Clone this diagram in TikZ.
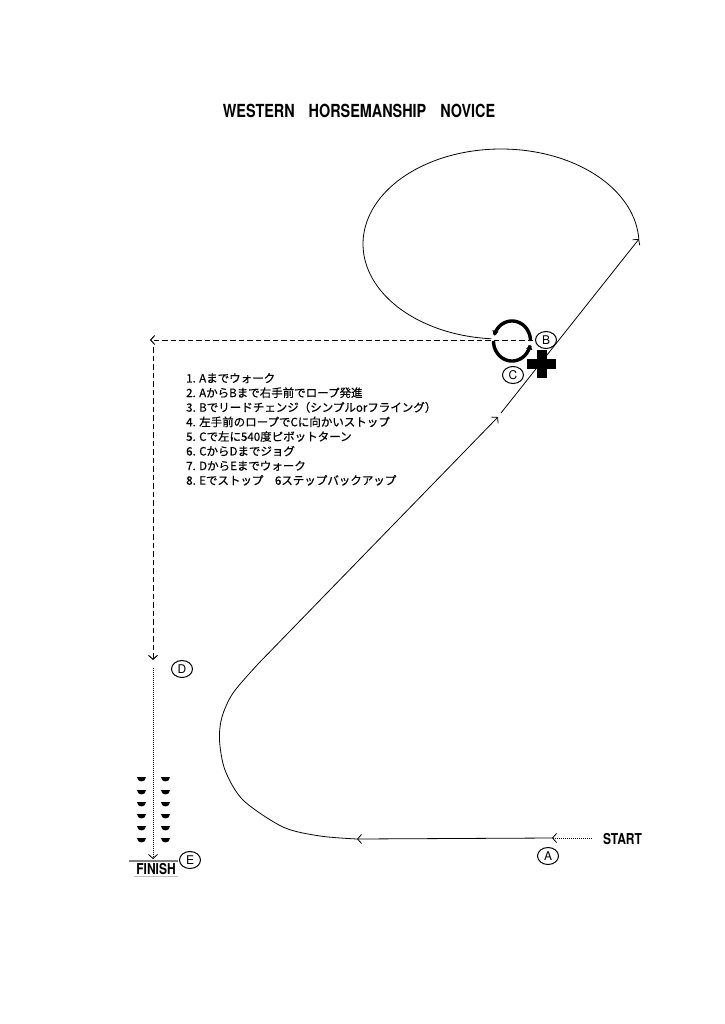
\documentclass[tikz,border=0pt]{standalone}
\usepackage{fontspec}
\setmainfont{TeX Gyre Heros}
\newfontfamily\condfont[FakeStretch=0.8]{TeX Gyre Heros}
\newfontfamily\jpfont[FakeBold=0.5]{Noto Sans CJK JP}
\usetikzlibrary{arrows.meta,shapes.geometric}

\begin{document}
\begin{tikzpicture}[x=1pt, y=-1pt, >={Straight Barb[length=4pt,width=9pt]},
    route/.style={line width=0.8pt},
    hdash/.style={line width=1pt, dash pattern=on 5.5pt off 3pt},
    finedots/.style={line width=0.8pt, dash pattern=on 0.8pt off 1.2pt},
    letter/.style={draw, ellipse, line width=1pt, minimum width=21pt, minimum height=17pt, inner sep=0pt, font=\fontsize{12}{12}\selectfont},
    bigword/.style={font=\condfont\bfseries\fontsize{#1}{#1}\selectfont}]
    \useasboundingbox (0,0) rectangle (724,1024);

    \node[bigword=18] (title) at (359,111) {WESTERN\hspace{14pt}HORSEMANSHIP\hspace{14pt}NOVICE};

    \coordinate (start) at (592,838);
    \coordinate (a) at (552,838);
    \coordinate (lope) at (357,839);
    \coordinate (bend) at (498,417);
    \coordinate (bendup) at (501,413);
    \coordinate (east) at (639,239);
    \coordinate (pivot) at (512,341);
    \coordinate (dashend) at (533,340);
    \coordinate (west) at (150,340);
    \coordinate (downtop) at (153,347);
    \coordinate (d) at (153,660);
    \coordinate (walktop) at (153,668);
    \coordinate (e) at (153,859);

    \draw[finedots, ->] (start) -- (a);
    \draw[route, ->] (a) -- (lope);
    \draw[route, ->] plot[smooth] coordinates {(lope) (320,836) (283,827) (243,800) (225,770) (219.5,740) (222,717) (233,693) (258,664)} -- (bend);
    \draw[route, ->] (bendup) -- (east);
    \draw[route] plot[domain=3:266, samples=90, smooth] ({501+138*cos(\x)}, {244-95*sin(\x)});

    \draw[line width=3.4pt, -{Latex[length=5pt,width=7pt]}] plot[domain=0:165, samples=40, smooth] ({512+18.5*cos(\x)}, {341-20*sin(\x)});
    \draw[line width=3.4pt, -{Latex[length=5pt,width=7pt]}] plot[domain=180:350, samples=40, smooth] ({512+18.5*cos(\x)}, {341-20*sin(\x)});
    \draw[line width=10pt] (527,364) -- (556,364) (541.5,350) -- (541.5,378);

    \draw[hdash, ->] (dashend) -- (west);
    \draw[hdash, ->] (downtop) -- (d);
    \draw[finedots, ->] (walktop) -- (e);

    \foreach \cx in {141,165}
        \foreach \cy in {779,792,804,816,828,840}
            \fill (\cx-4.5,\cy-2.5) -- (\cx+4.5,\cy-2.5) .. controls (\cx+4.5,\cy+4) and (\cx-4.5,\cy+4) .. cycle;

    \draw[gray, line width=2pt] (129,861) -- (178,861);
    \node[bigword=15] (finish) at (156,869) {FINISH};
    \draw[gray!50, line width=0.6pt] (134,876) -- (178,876);
    \node[bigword=15] (startlabel) at (622.5,839) {START};

    \node[letter] (la) at (548,856) {A};
    \node[letter] (lb) at (546,340) {B};
    \node[letter] (lc) at (513,375) {C};
    \node[letter] (ld) at (182,669) {D};
    \node[letter] (le) at (190,860) {E};

    \node[anchor=north west, align=left, inner sep=0pt, font=\jpfont\fontsize{11.5}{14.6}\selectfont] (steps) at (186,373) {1. Aまでウォーク\\
        2. AからBまで右手前でロープ発進\\
        3. Bでリードチェンジ（シンプルorフライング）\\
        4. 左手前のロープでCに向かいストップ\\
        5. Cで左に540度ピボットターン\\
        6. CからDまでジョグ\\
        7. DからEまでウォーク\\
        8. Eでストップ　6ステップバックアップ};
\end{tikzpicture}
\end{document}
